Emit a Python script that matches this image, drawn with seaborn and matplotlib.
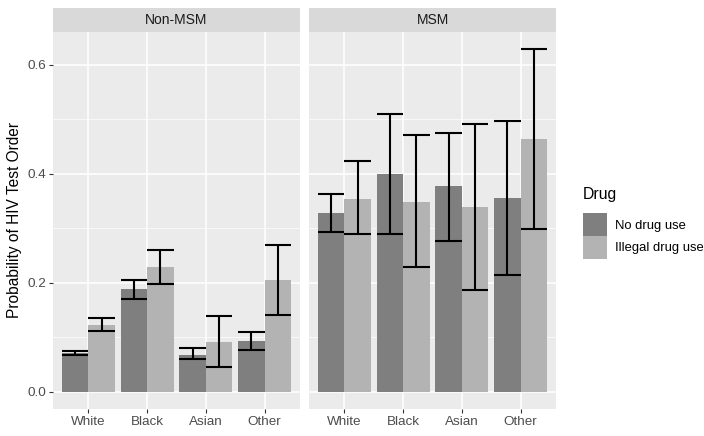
import pandas as pd
import numpy as np
import matplotlib.pyplot as plt
import seaborn as sns
from matplotlib.patches import Patch

# values
races = ['White', 'Black', 'Asian', 'Other']
groups = ['Non-MSM', 'MSM']
drugs = ['No drug use', 'Illegal drug use']

nonmsm_nodrug = [0.071, 0.188, 0.067, 0.093]
nonmsm_nodrug_lo = [0.067, 0.170, 0.060, 0.077]
nonmsm_nodrug_hi = [0.075, 0.206, 0.080, 0.110]
nonmsm_drug = [0.123, 0.229, 0.091, 0.205]
nonmsm_drug_lo = [0.112, 0.198, 0.045, 0.141]
nonmsm_drug_hi = [0.135, 0.260, 0.140, 0.270]

msm_nodrug = [0.328, 0.399, 0.377, 0.356]
msm_nodrug_lo = [0.293, 0.289, 0.277, 0.215]
msm_nodrug_hi = [0.363, 0.510, 0.475, 0.498]
msm_drug = [0.354, 0.348, 0.339, 0.464]
msm_drug_lo = [0.289, 0.229, 0.187, 0.298]
msm_drug_hi = [0.423, 0.471, 0.492, 0.629]

rows = []
vals = {
    ('Non-MSM', 'No drug use'): (nonmsm_nodrug, nonmsm_nodrug_lo, nonmsm_nodrug_hi),
    ('Non-MSM', 'Illegal drug use'): (nonmsm_drug, nonmsm_drug_lo, nonmsm_drug_hi),
    ('MSM', 'No drug use'): (msm_nodrug, msm_nodrug_lo, msm_nodrug_hi),
    ('MSM', 'Illegal drug use'): (msm_drug, msm_drug_lo, msm_drug_hi),
}
for (g, d), (p, lo, hi) in vals.items():
    for r, pv, l, h in zip(races, p, lo, hi):
        rows.append({'group': g, 'drug': d, 'race': r, 'prob': pv, 'lo': l, 'hi': h})
df = pd.DataFrame(rows)

colors = {'No drug use': '#7f7f7f', 'Illegal drug use': '#b3b3b3'}

plt.rcParams['font.family'] = ['Liberation Sans', 'DejaVu Sans']
fig = plt.figure(figsize=(7.04, 4.36), dpi=100)

W, H = 704, 436
panels = [(53, 'Non-MSM'), (309, 'MSM')]
axes = []
for left, g in panels:
    ax = fig.add_axes([left / W, (H - 409) / H, 247 / W, 377 / H])
    sub = df[df['group'] == g]
    sns.barplot(data=sub, x='race', y='prob', hue='drug', order=races,
                hue_order=drugs, palette=colors, errorbar=None, width=0.9,
                saturation=1, legend=False, ax=ax, zorder=2)
    # error bars at the bar centres
    for d, cont in zip(drugs, ax.containers):
        s = sub[sub['drug'] == d].set_index('race').loc[races]
        for patch, l, h in zip(cont.patches, s['lo'], s['hi']):
            xc = patch.get_x() + patch.get_width() / 2
            w = patch.get_width() / 2
            ax.vlines(xc, l, h, color='black', lw=1.5, zorder=3)
            ax.hlines([l, h], xc - w, xc + w, color='black', lw=1.5, zorder=3)
    ax.set_facecolor('#EBEBEB')
    ax.set_xlim(-0.6, 3.6)
    ax.set_ylim(-0.0315, 0.6605)
    ax.set_yticks([0.0, 0.2, 0.4, 0.6])
    ax.set_yticks([0.1, 0.3, 0.5], minor=True)
    ax.grid(which='major', color='white', lw=1.1, zorder=0)
    ax.grid(which='minor', axis='y', color='white', lw=0.5, zorder=0)
    ax.set_axisbelow(True)
    for s in ax.spines.values():
        s.set_visible(False)
    ax.tick_params(axis='both', which='major', length=3, color='#333333',
                   labelcolor='#4D4D4D', labelsize=9.7, pad=2)
    ax.tick_params(axis='both', which='minor', length=0)
    ax.set_xlabel('')
    ax.set_ylabel('')
    # facet strip
    sax = fig.add_axes([left / W, (H - 32) / H, 247 / W, 24 / H])
    sax.set_facecolor('#D9D9D9')
    sax.set_xticks([])
    sax.set_yticks([])
    for s in sax.spines.values():
        s.set_visible(False)
    sax.text(0.5, 0.5, g, ha='center', va='center', fontsize=10,
             color='#1A1A1A', transform=sax.transAxes)
    axes.append(ax)

axes[0].set_ylabel('Probability of HIV Test Order', fontsize=11.2, color='black', labelpad=4)
axes[1].tick_params(axis='y', labelleft=False, length=0)

handles = [Patch(facecolor=colors[d], edgecolor='none', label=d) for d in drugs]
leg = fig.legend(handles=handles, title='Drug', loc='upper left',
                 bbox_to_anchor=(578 / W, 1 - 182 / H), frameon=False,
                 fontsize=9.4, title_fontsize=11.3, handlelength=1.8,
                 handleheight=2.3, labelspacing=0.0, handletextpad=0.6,
                 borderaxespad=0)
leg._legend_box.align = 'left'
leg._legend_box.sep = 8

fig.savefig('out.png', dpi=100)
